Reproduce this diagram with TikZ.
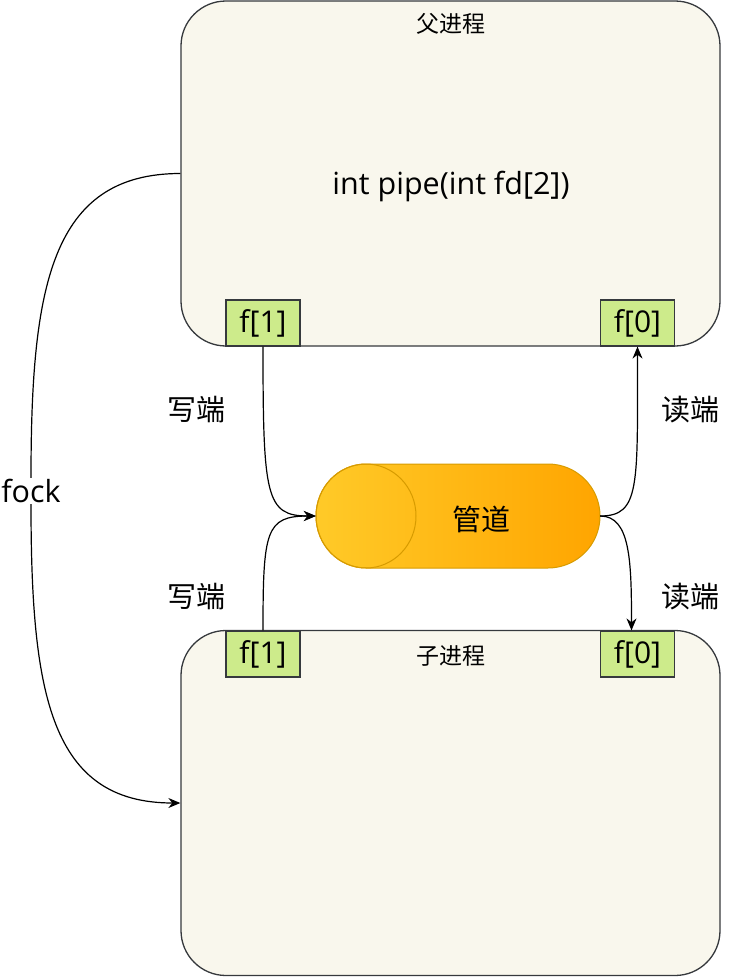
\documentclass[tikz,border=0pt]{standalone}
\usepackage{fontspec}
\setmainfont{Noto Sans CJK SC}
\newfontfamily\codefont{Open Sans}
\usepackage{tikz}
\usetikzlibrary{positioning,arrows.meta,calc}
\definecolor{procfill}{HTML}{F9F7ED}
\definecolor{procline}{HTML}{36393D}
\definecolor{fdfill}{HTML}{CDEB8B}
\definecolor{pipeleft}{HTML}{FFCA28}
\definecolor{piperight}{HTML}{FFA500}
\definecolor{pipeline}{HTML}{D79B00}
\tikzset{
  flowarrow/.style={-{Stealth[length=12pt,width=10pt]}, line width=1.2pt},
  flowline/.style={line width=1.2pt},
  procbox/.style={draw=procline, line width=1.3pt, rounded corners=45pt, fill=procfill, minimum width=539pt, minimum height=345pt, inner sep=0pt},
  fdnode/.style={draw=procline, line width=1.2pt, fill=fdfill, minimum width=74pt, minimum height=46pt, inner sep=0pt, font=\codefont\fontsize{30}{34}\selectfont},
  pipebox/.style={minimum width=284pt, minimum height=104pt, inner sep=0pt},
  titletext/.style={font=\fontsize{23}{27}\selectfont},
  bigtext/.style={font=\fontsize{29}{33}\selectfont},
  codetext/.style={font=\codefont\fontsize{30.5}{34}\selectfont},
  relabel/.style={font=\codefont\fontsize{30.5}{34}\selectfont, fill=white, inner sep=1pt}
}
\begin{document}
\begin{tikzpicture}[x=1pt, y=-1pt]
      \useasboundingbox (0,0) rectangle (737,977);
      % processes
      \node[procbox] (parent) at (450.5,173.5) {};
      \node[procbox] (child) at (450.5,803) {};
      \node[titletext] (ptitle) at (451,24) {父进程};
      \node[codetext] (pcall) at (451,186) {int pipe(int fd[2])};
      \node[titletext] (ctitle) at (451,656) {子进程};
      % file descriptors
      \node[fdnode] (pw) at (263,323) {f[1]};
      \node[fdnode] (pr) at (637.5,323) {f[0]};
      \node[fdnode] (cw) at (263,654) {f[1]};
      \node[fdnode] (cr) at (637.5,654) {f[0]};
      % pipe
      \shade[left color=pipeleft, right color=piperight, draw=pipeline, line width=1pt]
        (366,464) -- (548,464) arc[start angle=-90, end angle=90, x radius=52, y radius=52]
        -- (366,568) arc[start angle=90, end angle=270, x radius=50, y radius=52] -- cycle;
      \draw[pipeline, line width=1pt] (366,516) ellipse[x radius=50, y radius=52];
      \node[pipebox] (pipe) at (458,516) {};
      \node[bigtext] (pipetext) at (481,519) {管道};
      % end labels
      \node[bigtext] (w1) at (196,410) {写端};
      \node[bigtext] (r1) at (690,410) {读端};
      \node[bigtext] (w2) at (196,597) {写端};
      \node[bigtext] (r2) at (690,597) {读端};
      \node[relabel] (fork) at (31,491) {fock};
      % connectors
      \draw[flowarrow] (pw.south) .. controls +(0,150) and +(-50,0) .. (pipe.west);
      \draw[flowarrow] (cw.north) .. controls +(0,-100) and +(-50,0) .. (pipe.west);
      \draw[flowarrow] (pipe.east) .. controls +(40,0) and +(0,140) .. (pr.south);
      \draw[flowarrow] (pipe.east) .. controls +(30,0) and +(0,-70) .. ([xshift=-6pt]cr.north);
      \draw[flowline] (parent.west) .. controls +(-130,0) and +(0,-190) .. (fork.north);
      \draw[flowarrow] (fork.south) .. controls +(0,190) and +(-130,0) .. (child.west);
    \end{tikzpicture}
\end{document}
